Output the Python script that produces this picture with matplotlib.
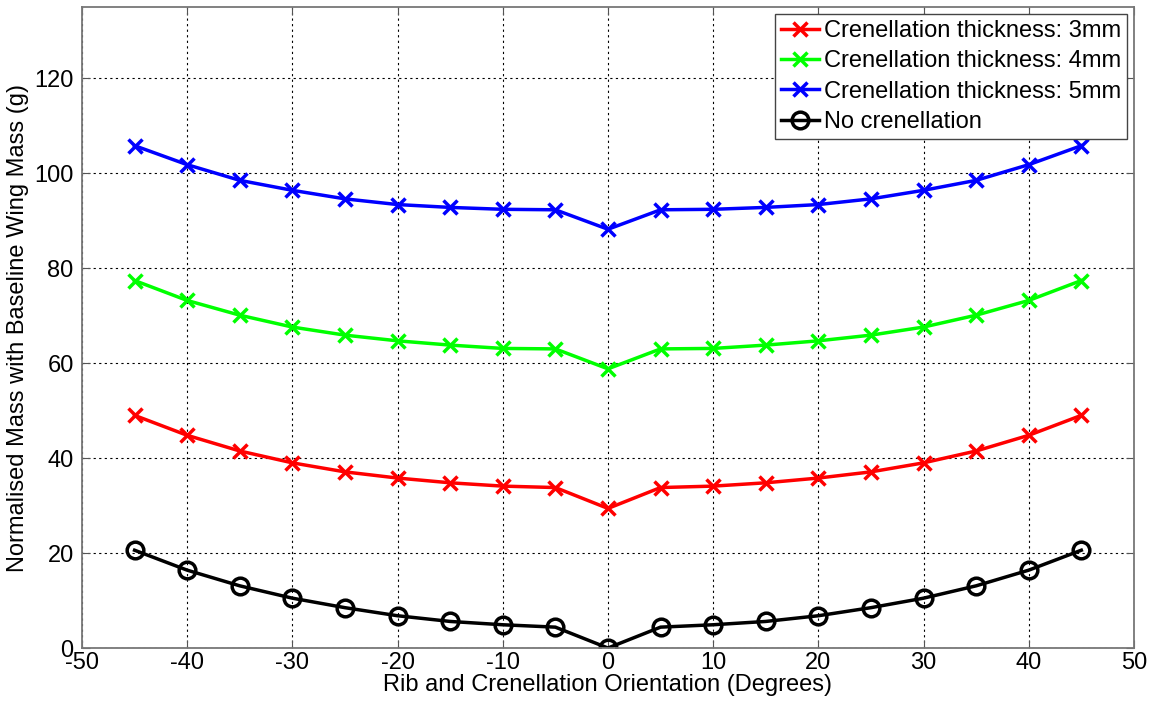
import numpy as np
import matplotlib
matplotlib.use("Agg")
import matplotlib.pyplot as plt

plt.rcParams["font.family"] = ["Liberation Sans", "DejaVu Sans"]
plt.rcParams["axes.unicode_minus"] = False

angles = [-45, -40, -35, -30, -25, -20, -15, -10, -5, 0, 5, 10, 15, 20, 25, 30, 35, 40, 45]
mass_3mm = [49.0, 44.8, 41.5, 39.0, 37.1, 35.8, 34.8, 34.1, 33.8, 29.4,
            33.8, 34.1, 34.8, 35.8, 37.1, 39.0, 41.5, 44.8, 49.0]
mass_4mm = [77.4, 73.2, 70.1, 67.6, 65.9, 64.7, 63.8, 63.1, 63.0, 58.8,
            63.0, 63.1, 63.8, 64.7, 65.9, 67.6, 70.1, 73.2, 77.4]
mass_5mm = [105.8, 101.8, 98.5, 96.4, 94.6, 93.4, 92.8, 92.4, 92.3, 88.2,
            92.3, 92.4, 92.8, 93.4, 94.6, 96.4, 98.5, 101.8, 105.8]
mass_none = [20.6, 16.4, 13.1, 10.5, 8.5, 6.8, 5.6, 4.9, 4.4, 0.0,
             4.4, 4.9, 5.6, 6.8, 8.5, 10.5, 13.1, 16.4, 20.6]

fig = plt.figure(figsize=(11.5, 7.04), dpi=100)
ax = fig.add_axes([0.0713, 0.0795, 0.9147, 0.9105])

ax.plot(angles, mass_3mm, color="#ff0000", marker="x", ms=10, mew=2.5, lw=2.5,
        label="Crenellation thickness: 3mm")
ax.plot(angles, mass_4mm, color="#00ff00", marker="x", ms=10, mew=2.5, lw=2.5,
        label="Crenellation thickness: 4mm")
ax.plot(angles, mass_5mm, color="#0000ff", marker="x", ms=10, mew=2.5, lw=2.5,
        label="Crenellation thickness: 5mm")
ax.plot(angles, mass_none, color="black", marker="o", ms=12, mew=2.5, lw=2.5,
        mfc="none", label="No crenellation")

ax.set_xlim(-50, 50)
ax.set_ylim(0, 135)
ax.set_xticks(np.arange(-50, 51, 10))
ax.set_yticks(np.arange(0, 121, 20))
ax.tick_params(direction="in", top=True, right=True, labelsize=17, length=6,
               color="#555555")
ax.tick_params(axis="y", pad=6)
ax.tick_params(axis="x", pad=3)
for s in ax.spines.values():
    s.set_color("#777777")
    s.set_linewidth(1.3)
ax.grid(True, color="black", linestyle=(0, (2, 3)), linewidth=0.8)

ax.set_xlabel("Rib and Crenellation Orientation (Degrees)", fontsize=17, labelpad=0)
ax.set_ylabel("Normalised Mass with Baseline Wing Mass (g)", fontsize=17, labelpad=4)

leg = ax.legend(loc="upper right", fontsize=17, handlelength=1.6, handletextpad=0.2,
                borderpad=0.25, labelspacing=0.35, borderaxespad=0.3,
                fancybox=False, framealpha=1, edgecolor="#444444")
leg.get_frame().set_linewidth(1.0)

fig.savefig("out.png", dpi=100)
